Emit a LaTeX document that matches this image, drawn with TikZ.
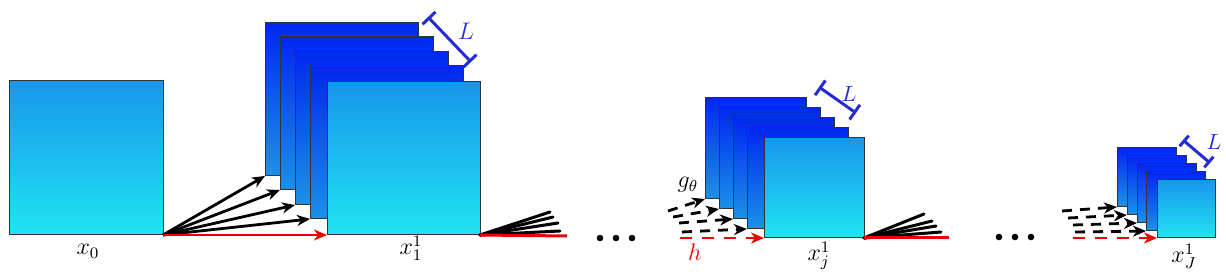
\documentclass[tikz,border=0pt]{standalone}
\usetikzlibrary{arrows.meta}
\definecolor{frontTop}{RGB}{24,150,236}
\definecolor{frontBot}{RGB}{32,228,242}
\definecolor{backTop}{RGB}{0,40,240}
\definecolor{backBot}{RGB}{28,145,232}
\definecolor{brk}{RGB}{35,45,210}
\definecolor{redl}{RGB}{238,0,0}
\begin{document}
\begin{tikzpicture}[x=0.5pt,y=-0.5pt,
  sq/.style={draw=black!80, line width=0.5pt, inner sep=0pt, outer sep=0pt, anchor=north west,
    minimum width=#1*0.5pt, minimum height=#1*0.5pt},
  front/.style={sq=#1, top color=frontTop, bottom color=frontBot},
  back/.style={sq=#1, top color=backTop, bottom color=backBot},
  arr/.style={line width=1.4pt, -{Stealth[length=6.5pt,width=5.5pt,inset=2pt]}},
  redarr/.style={arr, draw=redl},
  darr/.style={arr, dash pattern=on 5pt off 4pt},
  dredarr/.style={redarr, dash pattern=on 6pt off 5pt},
  fan/.style={line width=1.5pt, line cap=round},
  redfan/.style={line width=1.5pt, draw=redl},
  brace/.style={draw=brk, line width=1.5pt, {Bar[width=#1]}-{Bar[width=#1]}},
  lbl/.style={font=\fontsize{12}{14}\selectfont, inner sep=0pt, anchor=base},
  lblL/.style={font=\fontsize{#1}{14}\selectfont, text=brk, inner sep=0pt, anchor=base},
  dotc/.style={fill=black}
]
\useasboundingbox (0,0) rectangle (1226,277);

% ---- x0 ----
\node[front=154] (x0) at (9,81) {};
\node[lbl] (lx0) at (88,255) {$x_0$};

% ---- group 1 ----
\node[back=153] (a1) at (265,23) {};
\node[back=153] (a2) at (280,37) {};
\node[back=153] (a3) at (295,52) {};
\node[back=153] (a4) at (310,66) {};
\node[front=153] (a5) at (327,82) {};
\node[lbl] (la) at (411,255) {$x_1^1$};
\draw[arr] (x0.south east) -- (a1.south west);
\draw[arr] (x0.south east) -- (a2.south west);
\draw[arr] (x0.south east) -- (a3.south west);
\draw[arr] (x0.south east) -- (a4.south west);
\draw[redarr] (x0.south east) -- (a5.south west);
\coordinate (ba1) at (428,17);
\coordinate (ba2) at (471,62);
\draw[brace=9pt] (ba1) -- (ba2);
\node[lblL=12] (La) at (466,40) {$L$};

\coordinate (fa1) at (550,212);
\coordinate (fa2) at (553,217);
\coordinate (fa3) at (558,223);
\coordinate (fa4) at (560,231);
\coordinate (fa5) at (567,236);
\foreach \c in {fa1,fa2,fa3,fa4} \draw[fan] (a5.south east) -- (\c);
\draw[redfan] (a5.south east) -- (fa5);

\fill[dotc] (600,238) circle[radius=3.3];
\fill[dotc] (616,238) circle[radius=3.3];
\fill[dotc] (632,238) circle[radius=3.3];

% ---- group j ----
\node[back=101] (b1) at (705,98) {};
\node[back=101] (b2) at (719,108) {};
\node[back=101] (b3) at (733,118) {};
\node[back=101] (b4) at (747,128) {};
\node[front=100] (b5) at (764,138) {};
\node[lbl] (lb) at (819,261) {$x_j^1$};
\coordinate (sb1) at (668,211);
\coordinate (sb2) at (673,217);
\coordinate (sb3) at (679,223);
\coordinate (sb4) at (682,232);
\coordinate (sb5) at (680,238);
\draw[darr] (sb1) -- (b1.south west);
\draw[darr] (sb2) -- (b2.south west);
\draw[darr] (sb3) -- (b3.south west);
\draw[darr] (sb4) -- (b4.south west);
\draw[dredarr] (sb5) -- (b5.south west);
\node[lbl] (g) at (688,188) {$g_\theta$};
\node[lbl, text=redl] (h) at (695,261) {$h$};
\coordinate (bb1) at (819,87);
\coordinate (bb2) at (856,113);
\draw[brace=9pt] (bb1) -- (bb2);
\node[lblL=10.95] (Lb) at (849,102) {$L$};

\coordinate (fb1) at (924,214);
\coordinate (fb2) at (932,221);
\coordinate (fb3) at (936,226);
\coordinate (fb4) at (941,232);
\coordinate (fb5) at (949,238);
\foreach \c in {fb1,fb2,fb3,fb4} \draw[fan] (b5.south east) -- (\c);
\draw[redfan] (b5.south east) -- (fb5);

\fill[dotc] (999,237) circle[radius=3.3];
\fill[dotc] (1015,237) circle[radius=3.3];
\fill[dotc] (1031,237) circle[radius=3.3];

% ---- group J ----
\node[back=59] (c1) at (1117,148) {};
\node[back=59] (c2) at (1127,156) {};
\node[back=59] (c3) at (1137,164) {};
\node[back=59] (c4) at (1146,172) {};
\node[front=58] (c5) at (1157,180) {};
\node[lbl] (lc) at (1184,263) {$x_J^1$};
\coordinate (sc1) at (1062,211);
\coordinate (sc2) at (1068,218);
\coordinate (sc3) at (1073,225);
\coordinate (sc4) at (1075,232);
\coordinate (sc5) at (1073,238);
\draw[darr] (sc1) -- (c1.south west);
\draw[darr] (sc2) -- (c2.south west);
\draw[darr] (sc3) -- (c3.south west);
\draw[darr] (sc4) -- (c4.south west);
\draw[dredarr] (sc5) -- (c5.south west);
\coordinate (bc1) at (1183,140);
\coordinate (bc2) at (1210,163);
\draw[brace=7pt] (bc1) -- (bc2);
\node[lblL=10.95] (Lc) at (1214,150) {$L$};
\end{tikzpicture}
\end{document}
